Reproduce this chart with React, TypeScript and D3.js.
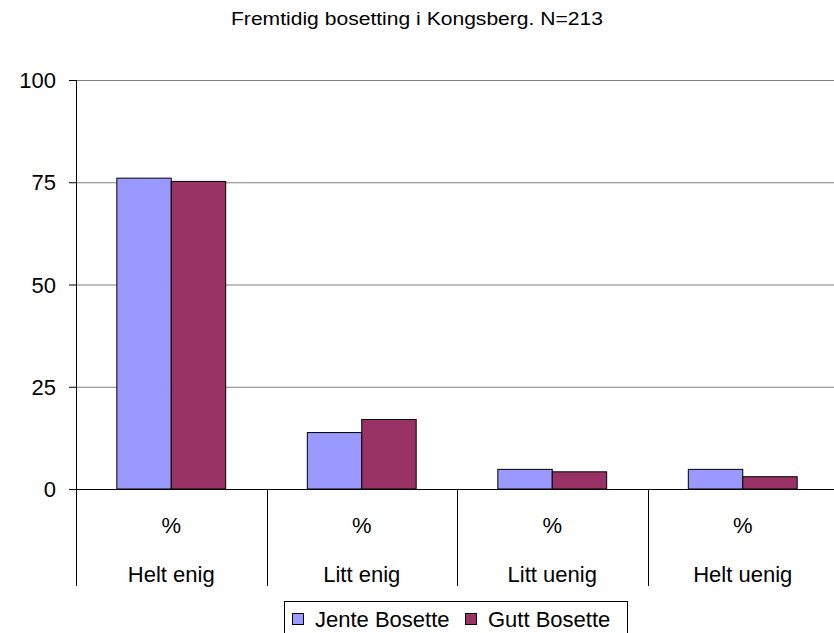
import React from "react";
import * as d3 from "d3";

const categories = ["Helt enig", "Litt enig", "Litt uenig", "Helt uenig"];
const seriesNames = ["Jente Bosette", "Gutt Bosette"];
const jente = [76.0, 13.8, 4.8, 4.8];
const gutt = [75.2, 17.0, 4.2, 3.0];
const yTicks = [0, 25, 50, 75, 100];
const colors = ["#9999FF", "#993366"];

export default function App() {
  const W = 834, H = 633;
  const left = 76, right = 838, top = 80, bottom = 489;
  const x = d3.scaleBand<string>().domain(categories).range([left, right]).paddingInner(0).paddingOuter(0);
  const inner = d3.scaleBand<string>().domain(seriesNames).range([0, x.bandwidth()]).paddingInner(0).paddingOuter(0.75);
  const y = d3.scaleLinear().domain([0, 100]).range([bottom, top]);
  const series = [jente, gutt];
  const font = "Liberation Sans, Arial, sans-serif";
  return (
    <svg width={W} height={H} style={{ position: "absolute", left: 0, top: 0, background: "#fff" }} fontFamily={font}>
      <text x={231} y={25} fontSize={18} textLength={372} lengthAdjust="spacingAndGlyphs">Fremtidig bosetting i Kongsberg. N=213</text>
      {yTicks.filter(t => t > 0).map(t => (
        <line key={t} x1={left} x2={W} y1={y(t) + 0.5} y2={y(t) + 0.5} stroke="#808080" strokeWidth={1} />
      ))}
      {yTicks.map(t => (
        <g key={"t" + t}>
          <line x1={left - 7} x2={left} y1={y(t) + 0.5} y2={y(t) + 0.5} stroke="#000" />
          <text x={56} y={y(t) + 8} textAnchor="end" fontSize={22}>{t}</text>
        </g>
      ))}
      {categories.map((c, i) => (
        <g key={c}>
          {series.map((s, j) => (
            <rect key={j} x={x(c)! + inner(seriesNames[j])!} y={y(s[i])} width={inner.bandwidth()} height={bottom - y(s[i])}
              fill={colors[j]} stroke="#000" strokeWidth={1} />
          ))}
          <text x={x(c)! + x.bandwidth() / 2} y={533} textAnchor="middle" fontSize={22}>%</text>
          <text x={x(c)! + x.bandwidth() / 2} y={582} textAnchor="middle" fontSize={22}>{c}</text>
        </g>
      ))}
      <line x1={left + 0.5} x2={left + 0.5} y1={top} y2={586} stroke="#000" />
      <line x1={left - 7} x2={W} y1={bottom + 0.5} y2={bottom + 0.5} stroke="#000" />
      {categories.slice(1).map(c => (
        <line key={"s" + c} x1={Math.round(x(c)!) + 0.5} x2={Math.round(x(c)!) + 0.5} y1={bottom} y2={586} stroke="#000" />
      ))}
      <rect x={284.5} y={601.5} width={343} height={40} fill="#fff" stroke="#000" />
      {seriesNames.map((n, j) => (
        <g key={n}>
          <rect x={[292, 465][j] + 0.5} y={613.5} width={11} height={11} fill={colors[j]} stroke="#000" />
          <text x={[315, 488][j]} y={627} fontSize={22}>{n}</text>
        </g>
      ))}
    </svg>
  );
}
